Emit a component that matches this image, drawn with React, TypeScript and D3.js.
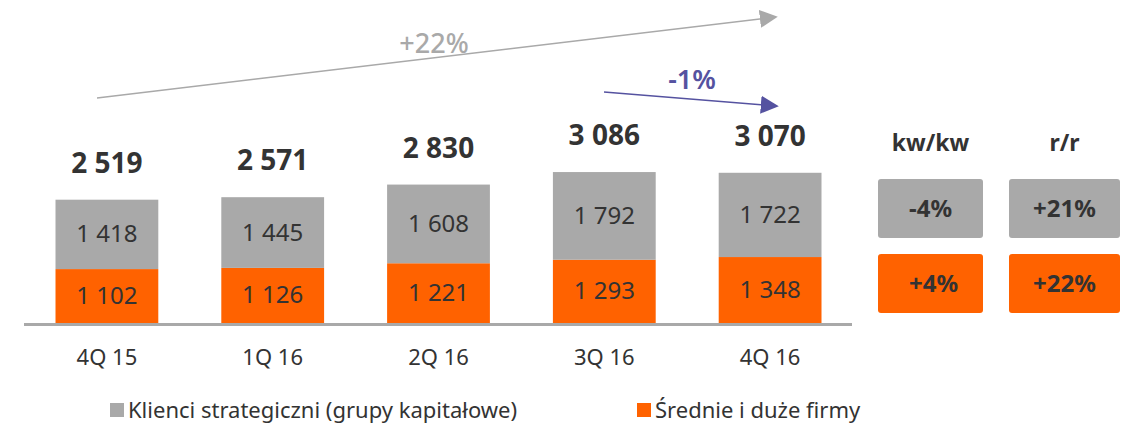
import React, { useEffect, useRef } from "react";
import * as d3 from "d3";

const categories = ["4Q 15", "1Q 16", "2Q 16", "3Q 16", "4Q 16"];
const strategic = [1418, 1445, 1608, 1792, 1722];
const midLarge = [1102, 1126, 1221, 1293, 1348];
const totals = [2519, 2571, 2830, 3086, 3070];

const changeHeaders = ["kw/kw", "r/r"];
const strategicChange = ["-4%", "+21%"];
const midLargeChange = ["+4%", "+22%"];

const legendLabels = ["Klienci strategiczni (grupy kapitałowe)", "Średnie i duże firmy"];

const GRAY = "#a9a9a9";
const ORANGE = "#ff6200";
const TEXT = "#333333";
const PURPLE = "#5552a0";
const FONT = "'Noto Sans', sans-serif";

// polish style thousands: "1 418"
const fmt = (v: number) => d3.format(",")(v).replace(/,/g, " ");

export default function App() {
  const ref = useRef<SVGSVGElement>(null);

  useEffect(() => {
    const svg = d3.select(ref.current);
    svg.selectAll("*").remove();

    const W = 1132, H = 424;
    const baseY = 323;

    const x = d3.scaleBand<string>()
      .domain(categories)
      .range([24, 853])
      .paddingInner(0.38)
      .paddingOuter(0.19);

    const y = d3.scaleLinear().domain([0, 3086]).range([baseY, 172]);

    svg.attr("width", W).attr("height", H).style("font-family", FONT);

    // arrow markers
    const defs = svg.append("defs");
    [["grayHead", GRAY], ["purpleHead", PURPLE]].forEach(([id, c]) => {
      defs.append("marker")
        .attr("id", id)
        .attr("viewBox", "0 0 10 10")
        .attr("refX", 9).attr("refY", 5)
        .attr("markerWidth", 18).attr("markerHeight", 18)
        .attr("markerUnits", "userSpaceOnUse")
        .attr("orient", "auto")
        .append("path")
        .attr("d", "M0,0 L10,5 L0,10 Z")
        .attr("fill", c);
    });

    // growth arrows
    svg.append("line")
      .attr("x1", 97).attr("y1", 98).attr("x2", 776).attr("y2", 17)
      .attr("stroke", GRAY).attr("stroke-width", 1.5)
      .attr("marker-end", "url(#grayHead)");
    svg.append("text")
      .attr("x", 434).attr("y", 53)
      .attr("text-anchor", "middle")
      .attr("fill", GRAY).attr("font-size", 27).attr("font-weight", 500)
      .text("+22%");

    svg.append("line")
      .attr("x1", 604).attr("y1", 92).attr("x2", 777).attr("y2", 106)
      .attr("stroke", PURPLE).attr("stroke-width", 1.5)
      .attr("marker-end", "url(#purpleHead)");
    svg.append("text")
      .attr("x", 692).attr("y", 89)
      .attr("text-anchor", "middle")
      .attr("fill", PURPLE).attr("font-size", 27).attr("font-weight", 600)
      .text("-1%");

    const g = svg.append("g");

    // orange (bottom) segments
    g.selectAll("rect.mid")
      .data(midLarge)
      .enter()
      .append("rect")
      .attr("x", (d, i) => x(categories[i])!)
      .attr("y", d => y(d))
      .attr("width", x.bandwidth())
      .attr("height", d => baseY - y(d))
      .attr("fill", ORANGE);

    // gray (top) segments
    g.selectAll("rect.str")
      .data(strategic)
      .enter()
      .append("rect")
      .attr("x", (d, i) => x(categories[i])!)
      .attr("y", (d, i) => y(d + midLarge[i]))
      .attr("width", x.bandwidth())
      .attr("height", (d, i) => y(midLarge[i]) - y(d + midLarge[i]))
      .attr("fill", GRAY);

    const cx = (i: number) => x(categories[i])! + x.bandwidth() / 2;

    g.selectAll("text.mid")
      .data(midLarge)
      .enter()
      .append("text")
      .attr("x", (d, i) => cx(i))
      .attr("y", d => (y(d) + baseY) / 2 + 8)
      .attr("text-anchor", "middle")
      .attr("font-size", 24)
      .attr("fill", TEXT)
      .text(d => fmt(d));

    g.selectAll("text.str")
      .data(strategic)
      .enter()
      .append("text")
      .attr("x", (d, i) => cx(i))
      .attr("y", (d, i) => (y(d + midLarge[i]) + y(midLarge[i])) / 2 + 8)
      .attr("text-anchor", "middle")
      .attr("font-size", 24)
      .attr("fill", TEXT)
      .text(d => fmt(d));

    g.selectAll("text.total")
      .data(totals)
      .enter()
      .append("text")
      .attr("x", (d, i) => cx(i))
      .attr("y", (d, i) => y(strategic[i] + midLarge[i]) - 27)
      .attr("text-anchor", "middle")
      .attr("font-size", 28)
      .attr("font-weight", "bold")
      .attr("fill", TEXT)
      .text(d => fmt(d));

    // baseline
    svg.append("line")
      .attr("x1", 24).attr("x2", 852)
      .attr("y1", baseY + 1.5).attr("y2", baseY + 1.5)
      .attr("stroke", GRAY).attr("stroke-width", 3);

    // category labels
    svg.selectAll("text.cat")
      .data(categories)
      .enter()
      .append("text")
      .attr("x", (d, i) => cx(i))
      .attr("y", 365)
      .attr("text-anchor", "middle")
      .attr("font-size", 22)
      .attr("fill", TEXT)
      .text(d => d);

    // change boxes
    const colX = [878, 1009];
    const colW = [105, 111];
    changeHeaders.forEach((h, j) => {
      const mx = colX[j] + colW[j] / 2;
      svg.append("text")
        .attr("x", mx).attr("y", 151)
        .attr("text-anchor", "middle")
        .attr("font-size", 23).attr("font-weight", "bold")
        .attr("fill", TEXT)
        .text(h);
      [[strategicChange[j], GRAY, 179], [midLargeChange[j], ORANGE, 254]].forEach(([t, c, top]) => {
        svg.append("rect")
          .attr("x", colX[j]).attr("y", top as number)
          .attr("width", colW[j]).attr("height", 59)
          .attr("rx", 3)
          .attr("fill", c as string);
        svg.append("text")
          .attr("x", mx + (c === ORANGE && j === 0 ? 3 : 0))
          .attr("y", (top as number) + 38)
          .attr("text-anchor", "middle")
          .attr("font-size", 24).attr("font-weight", "bold")
          .attr("fill", TEXT)
          .text(t as string);
      });
    });

    // legend
    const legendX = [110, 637];
    [GRAY, ORANGE].forEach((c, i) => {
      svg.append("rect")
        .attr("x", legendX[i]).attr("y", 403)
        .attr("width", 14).attr("height", 14)
        .attr("fill", c);
      svg.append("text")
        .attr("x", legendX[i] + 18).attr("y", 418)
        .attr("font-size", 22)
        .attr("fill", TEXT)
        .text(legendLabels[i]);
    });
  }, []);

  return (
    <svg ref={ref} style={{ position: "absolute", left: 0, top: 0 }} />
  );
}
